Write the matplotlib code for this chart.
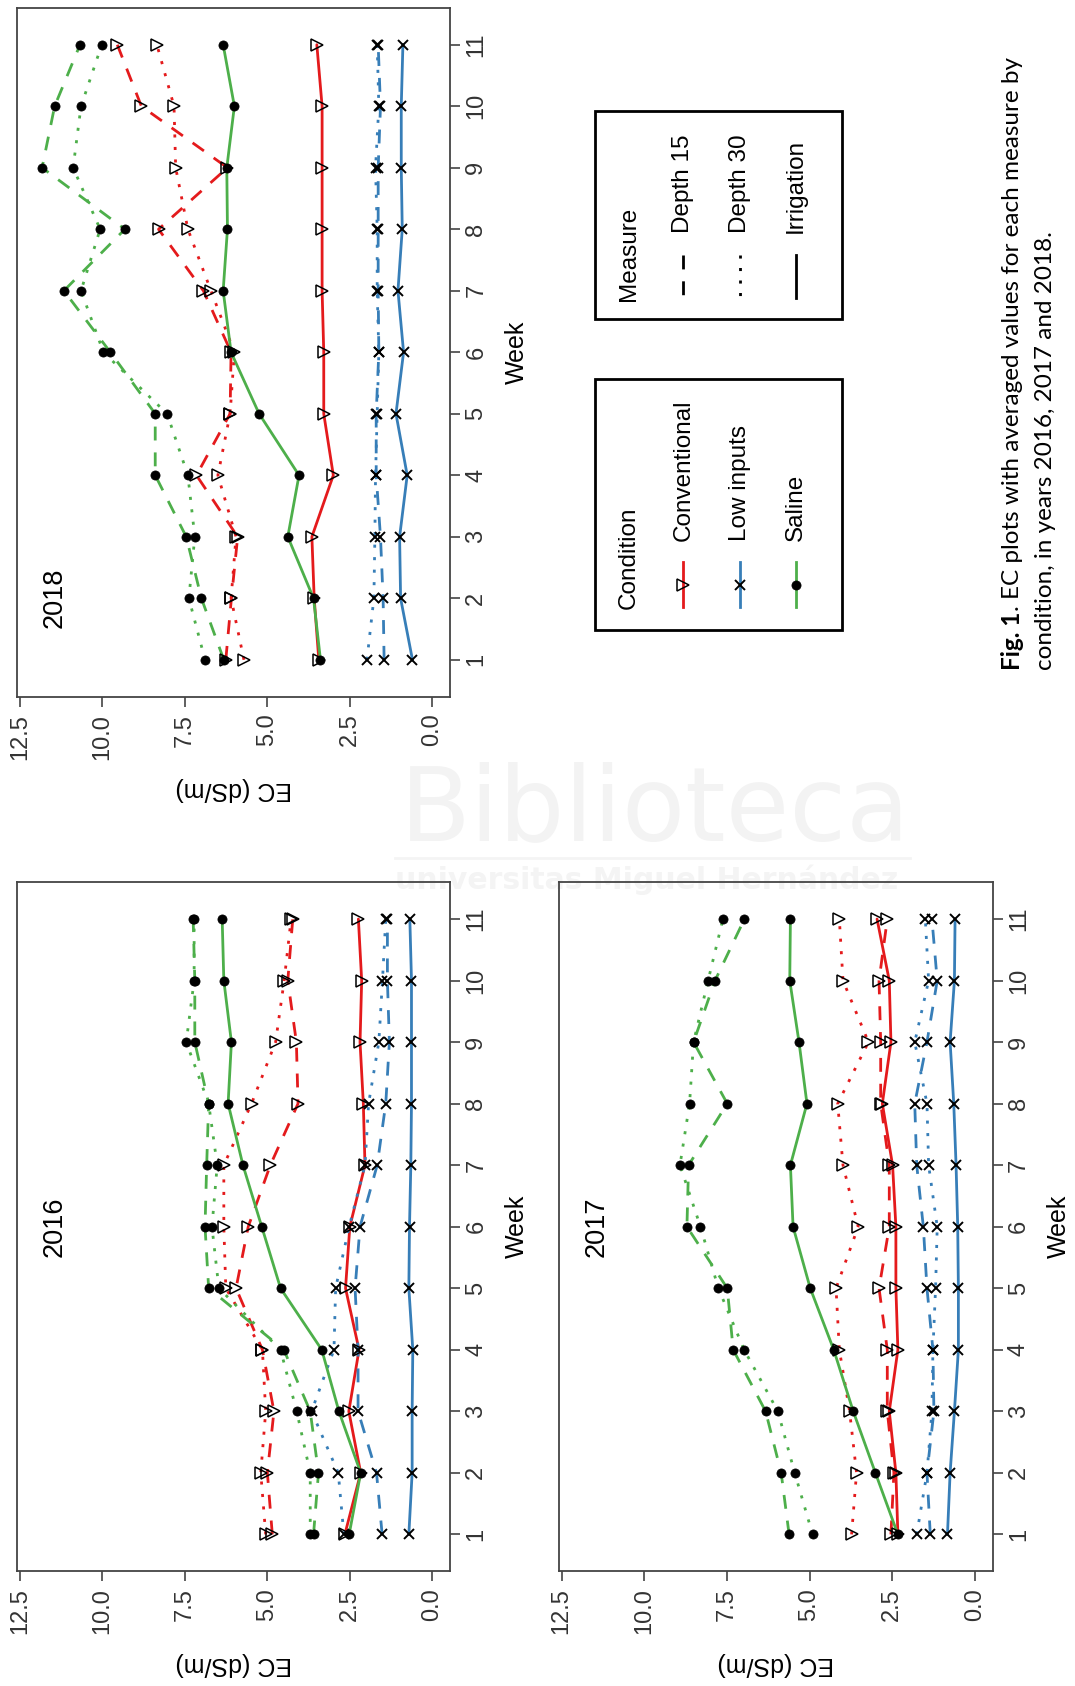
import matplotlib
matplotlib.use("Agg")
import matplotlib.pyplot as plt
from matplotlib.patches import Rectangle
from matplotlib.lines import Line2D
from matplotlib.transforms import blended_transform_factory

plt.rcParams["font.family"] = ["Liberation Sans", "DejaVu Sans"]

W, H, DPI = 1075, 1686, 100

# ---------------------------------------------------------------- data
weeks = list(range(1, 12))
week_labels = [str(w) for w in weeks]
ec_ticks = [0.0, 2.5, 5.0, 7.5, 10.0, 12.5]
ec_tick_labels = ["0.0", "2.5", "5.0", "7.5", "10.0", "12.5"]
conditions = ["Conventional", "Low inputs", "Saline"]
measures = ["Depth 15", "Depth 30", "Irrigation"]
years = [2016, 2017, 2018]

# EC (dS/m), weekly means - 2016
conv_d15_2016 = [4.85, 5.00, 4.80, 5.15, 5.95, 5.58, 4.91, 4.07, 4.12, 4.38, 4.23]
conv_d30_2016 = [5.05, 5.20, 5.05, 5.15, 6.26, 6.32, 6.32, 5.48, 4.75, 4.49, 4.28]
conv_irr_2016 = [2.65, 2.17, 2.53, 2.22, 2.63, 2.50, 2.04, 2.09, 2.19, 2.14, 2.24]
low_d15_2016 = [1.52, 1.69, 2.25, 2.25, 2.34, 2.19, 1.67, 1.41, 1.30, 1.36, 1.36]
low_d30_2016 = [2.68, 2.85, 3.66, 2.98, 2.93, 2.52, 2.04, 1.93, 1.62, 1.51, 1.41]
low_irr_2016 = [0.71, 0.61, 0.61, 0.59, 0.71, 0.69, 0.65, 0.63, 0.63, 0.63, 0.68]
sal_d15_2016 = [3.60, 3.45, 3.70, 4.50, 6.78, 6.89, 6.84, 6.78, 7.20, 7.20, 7.25]
sal_d30_2016 = [3.70, 3.70, 4.11, 4.60, 6.47, 6.68, 6.52, 6.78, 7.46, 7.22, 7.22]
sal_irr_2016 = [2.52, 2.17, 2.83, 3.35, 4.60, 5.17, 5.74, 6.19, 6.09, 6.32, 6.37]

# EC (dS/m), weekly means - 2017
conv_d15_2017 = [2.54, 2.45, 2.65, 2.65, 2.90, 2.59, 2.59, 2.85, 2.85, 2.90, 2.65]
conv_d30_2017 = [3.73, 3.58, 3.79, 4.10, 4.20, 3.53, 3.99, 4.15, 3.22, 3.99, 4.10]
conv_irr_2017 = [2.33, 2.39, 2.59, 2.33, 2.39, 2.39, 2.49, 2.80, 2.54, 2.59, 2.96]
low_d15_2017 = [1.35, 1.45, 1.24, 1.27, 1.45, 1.56, 1.76, 1.82, 1.45, 1.14, 1.30]
low_d30_2017 = [1.76, 1.45, 1.30, 1.27, 1.19, 1.14, 1.40, 1.45, 1.82, 1.40, 1.50]
low_irr_2017 = [0.83, 0.75, 0.62, 0.50, 0.50, 0.52, 0.57, 0.64, 0.75, 0.62, 0.60]
sal_d15_2017 = [5.62, 5.86, 6.33, 7.31, 7.49, 8.71, 8.66, 7.49, 8.51, 7.86, 6.97]
sal_d30_2017 = [4.91, 5.45, 5.96, 6.98, 7.76, 8.30, 8.92, 8.63, 8.51, 8.07, 7.62]
sal_irr_2017 = [2.33, 3.01, 3.68, 4.27, 4.98, 5.50, 5.58, 5.08, 5.32, 5.60, 5.58]

# EC (dS/m), weekly means - 2018
conv_d15_2018 = [6.26, 6.09, 5.90, 7.15, 6.13, 6.10, 6.94, 8.30, 6.21, 8.82, 9.55]
conv_d30_2018 = [5.71, 6.10, 5.95, 6.50, 6.13, 6.00, 6.71, 7.41, 7.78, 7.83, 8.35]
conv_irr_2018 = [3.44, 3.58, 3.65, 3.00, 3.29, 3.29, 3.34, 3.34, 3.34, 3.34, 3.50]
low_d15_2018 = [1.46, 1.49, 1.57, 1.70, 1.70, 1.62, 1.64, 1.64, 1.64, 1.57, 1.64]
low_d30_2018 = [1.98, 1.77, 1.74, 1.72, 1.67, 1.62, 1.67, 1.67, 1.72, 1.62, 1.67]
low_irr_2018 = [0.60, 0.96, 0.99, 0.76, 1.10, 0.87, 1.04, 0.91, 0.94, 0.94, 0.89]
sal_d15_2018 = [6.32, 7.00, 7.46, 8.40, 8.40, 9.76, 11.17, 9.32, 11.83, 11.45, 10.68]
sal_d30_2018 = [6.89, 7.38, 7.20, 7.41, 8.04, 9.97, 10.65, 10.07, 10.89, 10.65, 10.02]
sal_irr_2018 = [3.39, 3.60, 4.38, 4.04, 5.25, 6.10, 6.34, 6.21, 6.23, 6.00, 6.34]

series = {
    2016: {"Conventional": [conv_d15_2016, conv_d30_2016, conv_irr_2016],
           "Low inputs": [low_d15_2016, low_d30_2016, low_irr_2016],
           "Saline": [sal_d15_2016, sal_d30_2016, sal_irr_2016]},
    2017: {"Conventional": [conv_d15_2017, conv_d30_2017, conv_irr_2017],
           "Low inputs": [low_d15_2017, low_d30_2017, low_irr_2017],
           "Saline": [sal_d15_2017, sal_d30_2017, sal_irr_2017]},
    2018: {"Conventional": [conv_d15_2018, conv_d30_2018, conv_irr_2018],
           "Low inputs": [low_d15_2018, low_d30_2018, low_irr_2018],
           "Saline": [sal_d15_2018, sal_d30_2018, sal_irr_2018]},
}

# ---------------------------------------------------------------- styles
cond_color = {"Conventional": "#E41A1C", "Low inputs": "#377EB8", "Saline": "#4DAF4A"}
cond_marker = {
    "Conventional": dict(marker=">", ms=8.3, mfc="none", mec="black", mew=1.1),
    "Low inputs": dict(marker="x", ms=7.2, mec="black", mew=1.4),
    "Saline": dict(marker="o", ms=6.6, mfc="black", mec="black", mew=0.5),
}
meas_ls = {"Depth 15": (0, (5.0, 4.3)), "Depth 30": (0, (1.1, 3.4)), "Irrigation": "-"}
LW = 2.0
FRAME = "#444444"
TICK_TXT = "#333333"
TICK_SIZE = 17
LABEL_SIZE = 18

fig = plt.figure(figsize=(W / DPI, H / DPI), dpi=DPI, facecolor="white")

# background layer (pixel coordinates, y downward)
bg = fig.add_axes([0, 0, 1, 1], zorder=0)
bg.set_xlim(0, W)
bg.set_ylim(H, 0)
bg.axis("off")

renderer = fig.canvas.get_renderer()


def text_width(s, size, **kw):
    t = fig.text(0, 0, s, fontsize=size, **kw)
    w = t.get_window_extent(renderer).width
    t.remove()
    return w


# library watermark
wm_family = "DejaVu Sans"
wm_size = 40 * 510 / text_width("Biblioteca", 40, family=wm_family)
bg.text(400, 840, "Biblioteca", fontsize=wm_size, family=wm_family,
        color="#f3f3f3", ha="left", va="baseline")
bg.plot([395, 910], [858, 858], color="#f4f4f4", lw=2)
sub = "universitas Miguel Hernández"
sub_size = 12 * 500 / text_width(sub, 12, family=wm_family, weight="bold")
bg.text(395, 889, sub, fontsize=sub_size, family=wm_family, weight="bold",
        color="#f4f4f4", ha="left", va="baseline")


def panel_axes(left, top, right, bottom):
    return fig.add_axes([left / W, 1 - bottom / H, (right - left) / W, (bottom - top) / H],
                        zorder=2, facecolor="none")


def draw_panel(ax, year, title_week):
    for cond in conditions:
        for meas, vals in zip(measures, series[year][cond]):
            ax.plot(vals, weeks, color=cond_color[cond], lw=LW,
                    linestyle=meas_ls[meas], solid_capstyle="round", zorder=2)
    for cond in conditions:
        for vals in series[year][cond]:
            ax.plot(vals, weeks, linestyle="none", zorder=3, **cond_marker[cond])

    ax.set_xlim(12.585, -0.55)
    ax.set_ylim(0.4, 11.6)
    ax.set_xticks(ec_ticks)
    ax.set_xticklabels(ec_tick_labels)
    ax.set_yticks(weeks)
    ax.set_yticklabels(week_labels)
    ax.yaxis.tick_right()
    ax.tick_params(axis="both", direction="out", length=7.2, width=1.2,
                   color=FRAME, labelcolor=TICK_TXT, labelsize=TICK_SIZE)
    ax.tick_params(axis="x", pad=5.0, labelrotation=90)
    ax.tick_params(axis="y", pad=3.5, labelrotation=90)
    for t in ax.yaxis.get_major_ticks():
        t.label2.set_va("center")
        t.label2.set_ha("left")
    for s in ax.spines.values():
        s.set_color(FRAME)
        s.set_linewidth(1.3)

    ax.text(11.45, title_week, str(year), rotation=90, ha="center", va="center",
            fontsize=19.5, color="black")
    tr = blended_transform_factory(ax.transAxes, ax.transData)
    ax.text(1.1526, 6, "Week", transform=tr, rotation=90, ha="center", va="center",
            fontsize=LABEL_SIZE, color="black")
    ax.text(0.5, -0.134, "EC (dS/m)", transform=ax.transAxes, rotation=180,
            ha="center", va="center", fontsize=LABEL_SIZE, color="black")


ax18 = panel_axes(17.2, 7.8, 450.4, 696.7)
draw_panel(ax18, 2018, 2)
ax16 = panel_axes(17.2, 882.1, 450.4, 1571.3)
draw_panel(ax16, 2016, 6)
ax17 = panel_axes(558.8, 882.1, 993.1, 1571.3)
draw_panel(ax17, 2017, 6)

# foreground layer: legends and caption
fg = fig.add_axes([0, 0, 1, 1], zorder=5)
fg.set_xlim(0, W)
fg.set_ylim(H, 0)
fg.axis("off")
fg.patch.set_visible(False)

LEG_SIZE = 17.5
entry_x = [683.3, 739.6, 795.9]
title_x = 628.7

# Condition legend
fg.add_patch(Rectangle((595.0, 379.0), 247.0, 251.0, fill=False, lw=2.0, ec="black"))
fg.text(title_x, 609, "Condition", rotation=90, rotation_mode="anchor",
        ha="left", va="center", fontsize=LEG_SIZE)
for x, cond in zip(entry_x, conditions):
    fg.add_line(Line2D([x, x], [562, 606.7], color=cond_color[cond], lw=LW))
    fg.add_line(Line2D([x], [584.7], linestyle="none", **cond_marker[cond]))
    fg.text(x, 541, cond, rotation=90, rotation_mode="anchor",
            ha="left", va="center", fontsize=LEG_SIZE)

# Measure legend
fg.add_patch(Rectangle((595.0, 111.4), 247.0, 207.6, fill=False, lw=2.0, ec="black"))
fg.text(title_x, 300.7, "Measure", rotation=90, rotation_mode="anchor",
        ha="left", va="center", fontsize=LEG_SIZE)
for x, meas in zip(entry_x, measures):
    fg.add_line(Line2D([x, x], [254.7, 298], color="black", lw=LW, linestyle=meas_ls[meas]))
    fg.text(x, 232.7, meas, rotation=90, rotation_mode="anchor",
            ha="left", va="center", fontsize=LEG_SIZE)

# Caption
cap_family = ["Lato", "DejaVu Sans"]
cap_bold = "Fig. 1"
cap_rest = ". EC plots with averaged values for each measure by"
cap_line2 = "condition, in years 2016, 2017 and 2018."
ref = 20
w_full = (text_width(cap_bold, ref, family=cap_family, weight="bold")
          + text_width(cap_rest, ref, family=cap_family))
cap_size = ref * 612 / w_full
w_bold = text_width(cap_bold, cap_size, family=cap_family, weight="bold")
y0 = 669.5
fg.text(1012.5, y0, cap_bold, rotation=90, rotation_mode="anchor", ha="left",
        va="center", fontsize=cap_size, family=cap_family, weight="bold")
fg.text(1012.5, y0 - w_bold, cap_rest, rotation=90, rotation_mode="anchor", ha="left",
        va="center", fontsize=cap_size, family=cap_family)
fg.text(1045, y0, cap_line2, rotation=90, rotation_mode="anchor", ha="left",
        va="center", fontsize=cap_size, family=cap_family)

fig.savefig("out.png", dpi=DPI, facecolor="white")
